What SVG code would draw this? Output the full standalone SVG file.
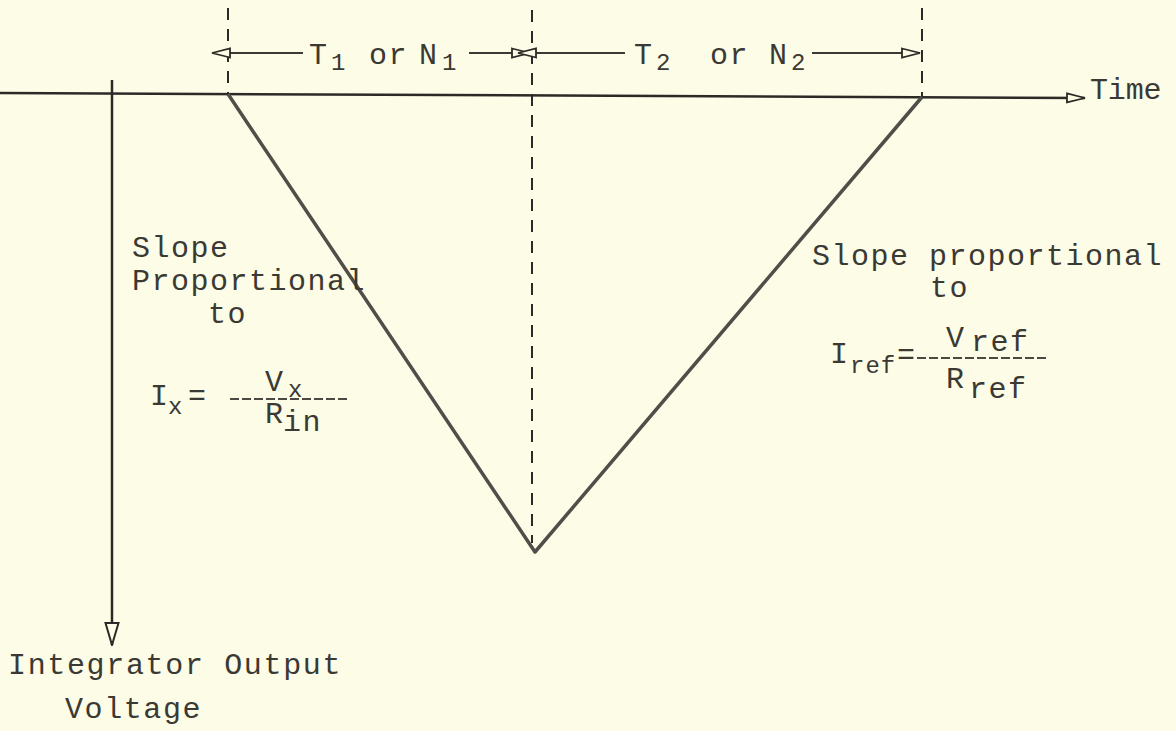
<svg xmlns="http://www.w3.org/2000/svg" width="1176" height="731" viewBox="0 0 1176 731">
<style>
text{font-family:"Liberation Mono","DejaVu Sans Mono",monospace;fill:#3a3934;font-size:30px;letter-spacing:1.5px}
.sub{font-size:24px;letter-spacing:1px}
.ax{stroke:#2b2a26;stroke-width:2.5;fill:none}
.dash{stroke:#2b2a26;stroke-width:2;stroke-dasharray:12,9;fill:none}
.tri{stroke:#4f4e49;stroke-width:3.5;fill:none;stroke-linejoin:round}
.frac{stroke:#4a4944;stroke-width:2;stroke-dasharray:9,3;fill:none}
.dim{stroke:#3a3934;stroke-width:2;fill:none}
</style>
<defs>
<marker id="open" viewBox="0 0 20 12" refX="19" refY="6" markerWidth="20" markerHeight="12" markerUnits="userSpaceOnUse" orient="auto">
<path d="M1,1.5 L19,6 L1,10.5 Z" fill="#fdfce6" stroke="#2b2a26" stroke-width="1.8"/>
</marker>
<marker id="openS" viewBox="0 0 20 12" refX="1" refY="6" markerWidth="20" markerHeight="12" markerUnits="userSpaceOnUse" orient="auto-start-reverse">
<path d="M1,1.5 L19,6 L1,10.5 Z" fill="#fdfce6" stroke="#2b2a26" stroke-width="1.8"/>
</marker>
<marker id="openV" viewBox="0 0 24 16" refX="23" refY="8" markerWidth="24" markerHeight="16" markerUnits="userSpaceOnUse" orient="auto">
<path d="M1,1.5 L23,8 L1,14.5 Z" fill="#fdfce6" stroke="#2b2a26" stroke-width="2"/>
</marker>
</defs>
<rect width="1176" height="731" fill="#fdfce6"/>
<g id="connectors">
<line class="ax" x1="0" y1="93" x2="1085" y2="98" marker-end="url(#open)"/>
<line class="ax" x1="112" y1="80" x2="112" y2="645" marker-end="url(#openV)"/>
<line class="dash" x1="228" y1="8" x2="228" y2="94"/>
<line class="dash" x1="532" y1="10" x2="532" y2="543"/>
<line class="dash" x1="922" y1="8" x2="922" y2="97"/>
<polyline class="tri" points="228,94 535,552 922,97"/>
<line class="dim" x1="230" y1="53" x2="303" y2="53" marker-start="url(#openS)"/>
<line class="dim" x1="469" y1="53" x2="530" y2="53" marker-end="url(#open)"/>
<line class="dim" x1="536" y1="53" x2="625" y2="53" marker-start="url(#openS)"/>
<line class="dim" x1="812" y1="53" x2="920" y2="53" marker-end="url(#open)"/>
</g>
<g id="label-T1">
<text x="309" y="64">T</text><text class="sub" x="331" y="70">1</text>
<text x="369" y="64">or</text>
<text x="419" y="64">N</text><text class="sub" x="442" y="70">1</text>
</g>
<g id="label-T2">
<text x="634" y="64">T</text><text class="sub" x="656" y="70">2</text>
<text x="710" y="64">or</text>
<text x="769" y="64">N</text><text class="sub" x="791" y="70">2</text>
</g>
<g id="label-time"><text x="1090" y="99" textLength="73" lengthAdjust="spacing">Time</text></g>
<g id="label-yaxis">
<text x="8" y="674" textLength="334" lengthAdjust="spacing">Integrator Output</text>
<text x="65" y="718" textLength="137" lengthAdjust="spacing">Voltage</text>
</g>
<g id="label-left">
<text x="132" y="257">Slope</text>
<text x="132" y="290">Proportional</text>
<text x="208" y="323">to</text>
<text x="150" y="405">I</text><text class="sub" x="168" y="414">x</text><text x="188" y="405">=</text>
<line class="frac" x1="230" y1="399" x2="347" y2="399"/>
<text x="265" y="391">V</text><text class="sub" x="288" y="397">x</text>
<text x="265" y="423">R</text><text x="283" y="431">in</text>
</g>
<g id="label-right">
<text x="812" y="265">Slope proportional</text>
<text x="930" y="297">to</text>
<text x="830" y="363">I</text><text class="sub" x="850" y="373">ref</text><text x="897" y="364">=</text>
<line class="frac" x1="917" y1="358" x2="1047" y2="358"/>
<text x="946" y="347">V</text><text x="971" y="351">ref</text>
<text x="946" y="388">R</text><text x="969" y="398">ref</text>
</g>
</svg>
